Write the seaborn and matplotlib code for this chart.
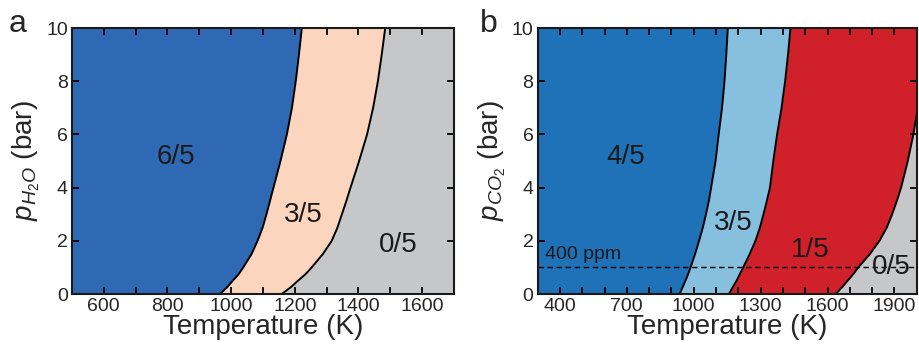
"""Two-panel stability diagram: hydration (a) and carbonation (b) vs temperature."""

import matplotlib
matplotlib.use("Agg")
import matplotlib.pyplot as plt
from matplotlib.ticker import MultipleLocator
import numpy as np
import seaborn as sns

# pressure grid shared by all boundaries (bar)
pressure = [0, 0.25, 0.5, 0.75, 1, 1.5, 2, 2.5, 3, 3.5, 4, 5, 6, 7, 8, 9, 10]

# panel a: boundary temperatures (K)
h2o_6_3 = [965, 987, 1005, 1024, 1038, 1064, 1083, 1099, 1111, 1122, 1133,
           1155, 1175, 1191, 1203, 1213, 1222]
h2o_3_0 = [1159, 1187, 1210, 1234, 1253, 1288, 1316, 1334, 1348, 1362, 1375,
           1402, 1427, 1446, 1461, 1473, 1484]

# panel b: boundary temperatures (K)
co2_4_3 = [937, 950, 963, 975, 986, 1006, 1024, 1041, 1055, 1068, 1078,
           1098, 1112, 1127, 1138, 1146, 1153]
co2_3_1 = [1158, 1175, 1192, 1207, 1222, 1251, 1277, 1297, 1313, 1328, 1342,
           1357, 1374, 1394, 1410, 1423, 1434]
co2_1_0 = [1637, 1665, 1690, 1716, 1738, 1790, 1833, 1866, 1890, 1911, 1930,
           1960, 1985, 2005, 2020, 2033, 2045]

atm_co2 = 1.0  # dashed reference line, labelled 400 ppm

labels_a = [("6/5", 827, 5.15), ("3/5", 1227, 2.97), ("0/5", 1526, 1.84)]
labels_b = [("4/5", 694, 5.15), ("3/5", 1179, 2.66), ("1/5", 1524, 1.65), ("0/5", 1888, 1.0)]

sns.set_theme(style="ticks")
plt.rcParams["font.family"] = ["Liberation Sans", "DejaVu Sans"]
plt.rcParams["mathtext.fontset"] = "custom"
plt.rcParams["mathtext.rm"] = "Liberation Sans"
plt.rcParams["mathtext.it"] = "Liberation Sans:italic"

fig = plt.figure(figsize=(9.19, 3.47), dpi=100)
ax_a = fig.add_axes([0.0783, 0.1527, 0.4157, 0.7666])
ax_b = fig.add_axes([0.585, 0.1527, 0.4125, 0.7666])


def draw_panel(ax, bounds, colors, xlim, major, labels):
    p = np.array(pressure)
    edges = [np.full(len(p), xlim[0] - 50)] + [np.array(b) for b in bounds] + [np.full(len(p), xlim[1] + 200)]
    for left, right, c in zip(edges[:-1], edges[1:], colors):
        ax.fill_betweenx(p, left, right, color=c, lw=0, zorder=1)
    for b in bounds:
        sns.lineplot(x=b, y=pressure, sort=False, estimator=None, color="black",
                     lw=1.4, ax=ax)
    for txt, x, y in labels:
        ax.text(x, y, txt, fontsize=20, ha="center", va="center", color="#1a1a1a")
    ax.set_axisbelow(False)
    ax.set_xlim(*xlim)
    ax.set_ylim(0, 10)
    ax.xaxis.set_major_locator(MultipleLocator(major))
    ax.xaxis.set_minor_locator(MultipleLocator(100))
    ax.yaxis.set_major_locator(MultipleLocator(2))
    ax.tick_params(which="both", direction="in", top=True, right=True, length=5,
                   width=1.3, labelsize=14, pad=3, color="black")
    for s in ax.spines.values():
        s.set_linewidth(1.5)
        s.set_color("#1a1a1a")
        s.set_zorder(6)
    ax.xaxis.set_zorder(5)
    ax.yaxis.set_zorder(5)
    ax.set_xlabel("Temperature (K)", fontsize=20, labelpad=-1)


draw_panel(ax_a, [h2o_6_3, h2o_3_0], ["#2f69b3", "#fcd5bf", "#c5c7c9"],
           (500, 1700), 200, labels_a)
ax_a.set_xticks(np.arange(600, 1700, 200))
ax_a.set_ylabel(r"$p_{H_2O}$ (bar)", fontsize=20, labelpad=3)

draw_panel(ax_b, [co2_4_3, co2_3_1, co2_1_0],
           ["#1f72b8", "#87bfdf", "#d0202a", "#c5c7c9"], (300, 2000), 300, labels_b)
ax_b.set_xticks(np.arange(400, 2000, 300))
ax_b.set_ylabel(r"$p_{CO_2}$ (bar)", fontsize=20, labelpad=3)
ax_b.axhline(atm_co2, color="black", ls=(0, (4, 2.5)), lw=1)
ax_b.text(333, 1.47, "400 ppm", fontsize=14, ha="left", va="center", color="#1a1a1a")

fig.text(0.009, 0.975, "a", fontsize=23, ha="left", va="top")
fig.text(0.522, 0.975, "b", fontsize=23, ha="left", va="top")

fig.savefig("out.png", dpi=100)
